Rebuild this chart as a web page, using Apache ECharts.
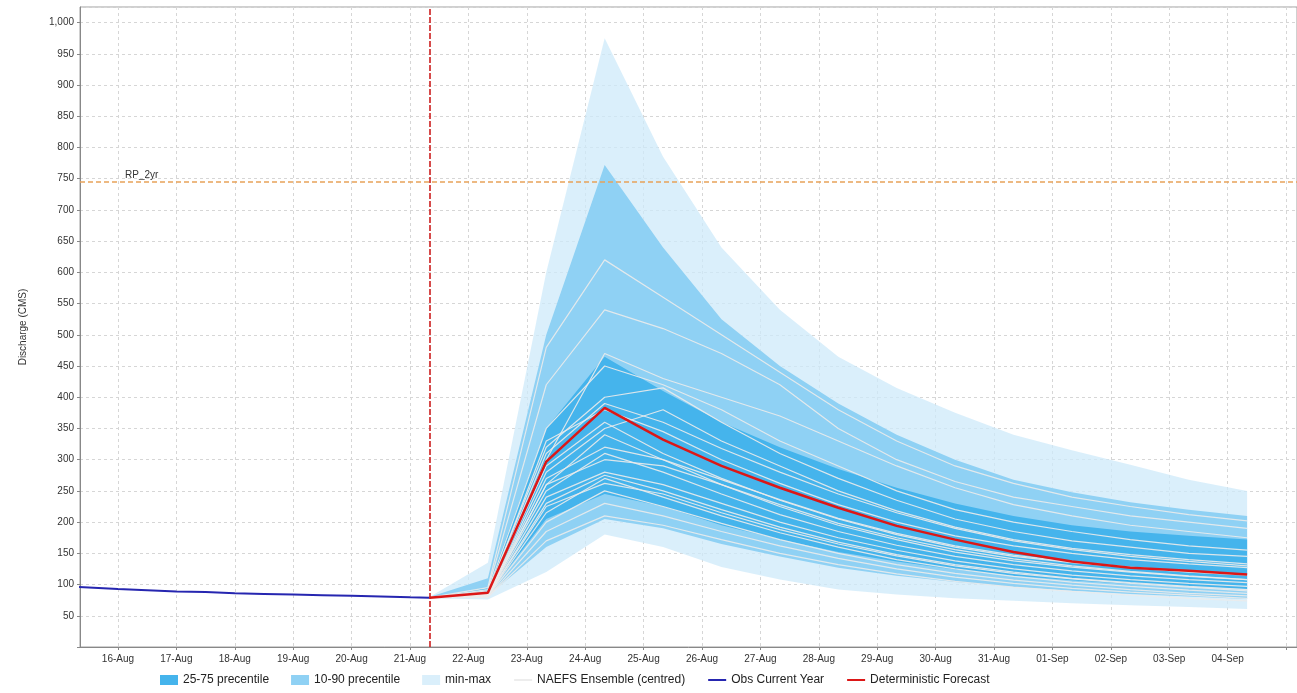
<!DOCTYPE html>
<html>
<head>
<meta charset="utf-8">
<script src="https://cdn.jsdelivr.net/npm/echarts@6/dist/echarts.min.js"></script>
<style>
  html, body { margin: 0; padding: 0; background: #fff; }
  #main { width: 1297px; height: 693px; }
</style>
</head>
<body>
<div id="main"></div>
<script>
// observed flow, up to forecast issue time
var obsTimes = ['2013-08-15 08:00', '2013-08-16 00:00', '2013-08-16 12:00', '2013-08-17 00:00', '2013-08-17 12:00',
    '2013-08-18 00:00', '2013-08-18 12:00', '2013-08-19 00:00', '2013-08-19 12:00', '2013-08-20 00:00',
    '2013-08-20 12:00', '2013-08-21 00:00', '2013-08-21 08:00'];
var obsValues = [96, 93, 91, 89, 88, 86, 85, 84, 83, 82, 81, 79.5, 79];

// forecast steps (daily from issue time)
var fcTimes = ['2013-08-21 08:00', '2013-08-22 08:00', '2013-08-23 08:00', '2013-08-24 08:00', '2013-08-25 08:00',
    '2013-08-26 08:00', '2013-08-27 08:00', '2013-08-28 08:00', '2013-08-29 08:00', '2013-08-30 08:00',
    '2013-08-31 08:00', '2013-09-01 08:00', '2013-09-02 08:00', '2013-09-03 08:00', '2013-09-04 08:00'];

var detValues = [79, 87, 297, 383, 332, 290, 255, 223, 194, 172, 152, 137, 127, 122, 116];

var maxValues = [80, 135, 600, 975, 785, 640, 540, 465, 415, 375, 340, 315, 292, 268, 250];
var p90Values = [80, 110, 500, 772, 640, 525, 450, 390, 340, 300, 268, 248, 232, 220, 210];
var p75Values = [79, 95, 350, 465, 410, 360, 320, 285, 255, 230, 210, 195, 185, 178, 172];
var p25Values = [79, 84, 205, 245, 225, 195, 172, 152, 137, 124, 114, 107, 101, 97, 93];
var p10Values = [79, 82, 160, 205, 190, 165, 145, 127, 114, 104, 96, 90, 85, 81, 77];
var minValues = [78, 76, 120, 180, 160, 128, 108, 92, 84, 78, 74, 70, 67, 64, 61];

// NAEFS ensemble members
var members = [
    [79, 92, 420, 540, 510, 470, 420, 350, 300, 265, 240, 225, 210, 200, 190],
    [79, 95, 480, 620, 560, 500, 440, 380, 330, 290, 262, 240, 225, 212, 202],
    [79, 90, 350, 450, 420, 380, 330, 290, 250, 220, 200, 185, 172, 162, 155],
    [79, 88, 320, 400, 415, 360, 310, 270, 235, 205, 185, 170, 160, 150, 145],
    [79, 86, 290, 360, 310, 270, 235, 205, 180, 160, 145, 135, 127, 120, 115],
    [79, 85, 260, 340, 300, 260, 225, 195, 172, 152, 138, 128, 120, 113, 108],
    [79, 84, 250, 310, 280, 245, 212, 185, 163, 145, 132, 122, 114, 108, 103],
    [79, 83, 240, 280, 260, 230, 200, 175, 155, 138, 125, 115, 108, 102, 97],
    [79, 82, 230, 275, 250, 220, 192, 168, 148, 132, 120, 110, 103, 97, 92],
    [79, 82, 215, 270, 240, 210, 183, 160, 140, 125, 113, 104, 97, 91, 86],
    [79, 81, 200, 250, 225, 198, 172, 150, 132, 118, 107, 99, 92, 86, 82],
    [79, 80, 185, 230, 210, 185, 162, 142, 125, 112, 102, 94, 88, 83, 78],
    [79, 80, 170, 210, 195, 172, 150, 132, 117, 105, 96, 89, 83, 78, 74],
    [79, 84, 330, 380, 345, 300, 262, 228, 200, 178, 162, 150, 140, 133, 127],
    [79, 87, 300, 470, 430, 400, 370, 330, 290, 255, 228, 210, 195, 185, 175],
    [79, 83, 280, 350, 380, 330, 290, 250, 218, 192, 172, 158, 148, 140, 133],
    [79, 81, 260, 300, 290, 260, 228, 198, 175, 156, 141, 130, 121, 114, 108],
    [79, 83, 270, 320, 300, 268, 236, 206, 182, 162, 147, 136, 128, 121, 116],
    [79, 82, 225, 262, 245, 215, 188, 165, 146, 130, 118, 109, 102, 96, 90],
    [79, 84, 310, 390, 360, 318, 280, 245, 215, 190, 170, 156, 145, 137, 130]
];

var rp2yr = 745;
var issueTime = '2013-08-21 08:00';
var lastLabelDay = '2013-09-04';
var monthNames = ['Jan', 'Feb', 'Mar', 'Apr', 'May', 'Jun', 'Jul', 'Aug', 'Sep', 'Oct', 'Nov', 'Dec'];

function pairs(times, vals) {
    return times.map(function (t, i) { return [t, vals[i]]; });
}

function band(name, lower, upper, color) {
    var diff = upper.map(function (v, i) { return v - lower[i]; });
    return [
        {
            name: name + '_base', type: 'line', stack: name, symbol: 'none', silent: true,
            lineStyle: { opacity: 0 }, data: pairs(fcTimes, lower)
        },
        {
            name: name, type: 'line', stack: name, symbol: 'none', silent: true,
            lineStyle: { width: 0 }, itemStyle: { color: color },
            areaStyle: { color: color, opacity: 1 },
            data: pairs(fcTimes, diff)
        }
    ];
}

var chart = echarts.init(document.getElementById('main'));

var series = [];
series = series.concat(band('min-max', minValues, maxValues, 'rgba(205,234,250,0.75)'));
series = series.concat(band('10-90 precentile', p10Values, p90Values, '#8fd1f4'));
series = series.concat(band('25-75 precentile', p25Values, p75Values, '#45b4ec'));

members.forEach(function (m) {
    series.push({
        name: 'NAEFS Ensemble (centred)', type: 'line', symbol: 'none', silent: true,
        lineStyle: { color: 'rgba(235,235,235,0.9)', width: 1.2 },
        itemStyle: { color: '#d8d8d8' },
        data: pairs(fcTimes, m)
    });
});

series.push({
    name: 'Obs Current Year', type: 'line', symbol: 'none',
    lineStyle: { color: '#2626b0', width: 2 }, itemStyle: { color: '#2626b0' },
    data: pairs(obsTimes, obsValues)
});

series.push({
    name: 'Deterministic Forecast', type: 'line', symbol: 'none',
    lineStyle: { color: '#dc1717', width: 2.5 }, itemStyle: { color: '#dc1717' },
    data: pairs(fcTimes, detValues),
    markLine: {
        symbol: 'none', silent: true,
        data: [
            {
                yAxis: rp2yr,
                lineStyle: { color: '#e8a35a', type: [5, 3], width: 1.5 },
                label: {
                    formatter: 'RP_2yr', position: 'insideStartTop', distance: [45, 2],
                    color: '#333', fontSize: 10
                }
            },
            {
                xAxis: issueTime,
                lineStyle: { color: '#cc1f1f', type: [6, 2], width: 1.6 },
                label: { show: false }
            }
        ]
    }
});

var lineIcon = { itemStyle: { opacity: 0 } };

var option = {
    backgroundColor: '#fff',
    animation: false,
    textStyle: { fontFamily: 'Liberation Sans, Arial, sans-serif' },
    grid: {
        left: 80, right: 0, top: 7, bottom: 46, outerBoundsMode: 'none',
        show: true, borderColor: '#a0a0a0', borderWidth: 1, backgroundColor: '#fff'
    },
    legend: {
        bottom: 2, left: 155, itemWidth: 18, itemHeight: 10, itemGap: 22,
        textStyle: { fontSize: 12, color: '#222' },
        data: [
            { name: '25-75 precentile', icon: 'rect' },
            { name: '10-90 precentile', icon: 'rect' },
            { name: 'min-max', icon: 'rect' },
            Object.assign({ name: 'NAEFS Ensemble (centred)' }, lineIcon),
            Object.assign({ name: 'Obs Current Year' }, lineIcon),
            Object.assign({ name: 'Deterministic Forecast' }, lineIcon)
        ]
    },
    xAxis: {
        type: 'time',
        min: +new Date(2013, 7, 15, 8, 24),
        max: +new Date(2013, 8, 5, 4, 30),
        minInterval: 86400000, maxInterval: 86400000,
        axisLine: { lineStyle: { color: '#888' } },
        axisTick: { show: true, length: 3, lineStyle: { color: '#888' } },
        axisLabel: {
            fontSize: 10, color: '#333', margin: 7, hideOverlap: false,
            formatter: function (v) {
                var d = new Date(v);
                if (d > new Date(lastLabelDay + 'T23:59:00')) return '';
                var dd = d.getDate();
                return (dd < 10 ? '0' : '') + dd + '-' + monthNames[d.getMonth()];
            }
        },
        splitLine: { show: true, lineStyle: { color: '#d6d6d6', type: [3, 3] } }
    },
    yAxis: {
        type: 'value', min: 0, max: 1025, interval: 50,
        name: 'Discharge (CMS)', nameLocation: 'middle', nameGap: 52,
        nameTextStyle: { fontSize: 10, color: '#333' },
        axisLine: { show: true, lineStyle: { color: '#888' } },
        axisTick: { show: true, length: 3, lineStyle: { color: '#888' } },
        axisLabel: {
            fontSize: 10, color: '#333', margin: 6, showMaxLabel: false,
            formatter: function (v) { return (v === 0 || v % 50 !== 0) ? '' : v.toLocaleString('en-US'); }
        },
        splitLine: { show: true, lineStyle: { color: '#d6d6d6', type: [3, 3] } }
    },
    series: series
};

chart.setOption(option);
</script>
</body>
</html>
